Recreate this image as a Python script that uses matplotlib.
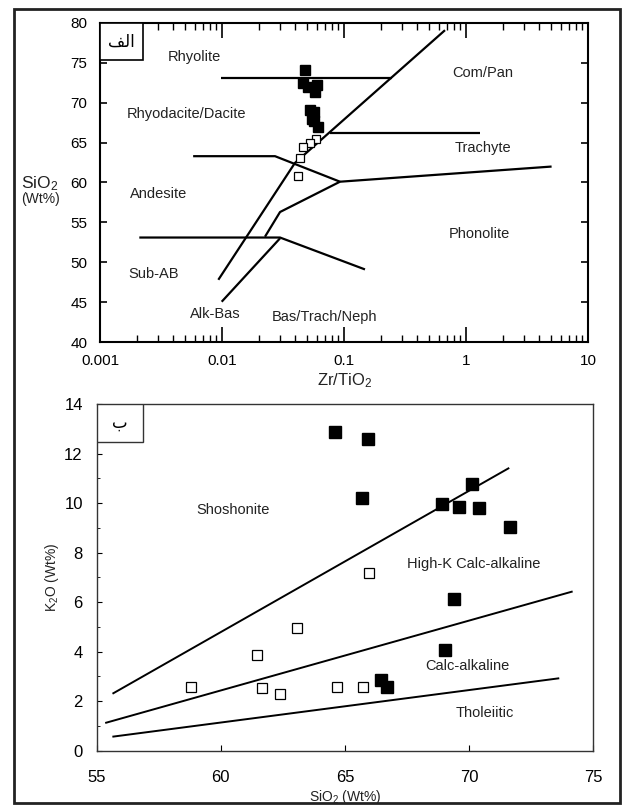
import matplotlib.pyplot as plt
from matplotlib.patches import Rectangle

plt.rcParams['font.family'] = ['Liberation Sans', 'DejaVu Sans']
plt.rcParams['mathtext.default'] = 'regular'

# --- top panel: SiO2 vs Zr/TiO2 ---
zr_ti_filled = [0.0483, 0.0464, 0.0601, 0.0508, 0.0576, 0.0531, 0.0565, 0.0549, 0.0565, 0.0607]
sio2_filled = [74.1, 72.5, 72.2, 72.0, 71.4, 69.1, 68.8, 68.0, 67.7, 67.0]
zr_ti_open = [0.0586, 0.0523, 0.0464, 0.0439, 0.0420]
sio2_open = [65.45, 65.0, 64.5, 63.1, 60.8]

# field boundaries (Zr/TiO2, SiO2)
top_lines = [
    ([0.0099, 0.246], [73.1, 73.1]),
    ([0.00933, 0.0396, 0.673], [47.8, 62.45, 79.1]),
    ([0.0058, 0.0272, 0.0927], [63.3, 63.3, 60.1]),
    ([0.0927, 5.03], [60.1, 62.0]),
    ([0.0767, 1.30], [66.2, 66.2]),
    ([0.0225, 0.0299, 0.0927], [53.2, 56.3, 60.1]),
    ([0.0021, 0.0299, 0.1486], [53.1, 53.1, 49.1]),
    ([0.00994, 0.0299], [45.05, 53.0]),
]
top_fields = ['Rhyolite', 'Rhyodacite/Dacite', 'Andesite', 'Sub-AB', 'Alk-Bas',
              'Bas/Trach/Neph', 'Com/Pan', 'Trachyte', 'Phonolite']
top_field_x = [0.00589, 0.00514, 0.00301, 0.00277, 0.00887, 0.0698, 1.37, 1.37, 1.28]
top_field_y = [75.7, 68.55, 58.56, 48.53, 43.47, 43.17, 73.7, 64.3, 53.5]

# --- bottom panel: K2O vs SiO2 ---
sio2_b_filled = [64.6, 65.94, 65.70, 70.13, 68.89, 69.59, 70.41, 71.65, 69.39, 69.03, 66.44, 66.68]
k2o_b_filled = [12.86, 12.59, 10.19, 10.76, 9.96, 9.86, 9.82, 9.02, 6.13, 4.07, 2.86, 2.56]
sio2_b_open = [65.97, 58.79, 61.44, 61.67, 62.38, 63.05, 64.67, 65.74]
k2o_b_open = [7.19, 2.56, 3.87, 2.52, 2.29, 4.94, 2.56, 2.56]

bottom_lines = [
    ([55.67, 71.58], [2.32, 11.4]),
    ([55.38, 74.13], [1.13, 6.42]),
    ([55.67, 73.59], [0.57, 2.92]),
]
bottom_fields = ['Shoshonite', 'High-K Calc-alkaline', 'Calc-alkaline', 'Tholeiitic']
bottom_field_x = [60.5, 70.17, 69.94, 70.64]
bottom_field_y = [9.7, 7.53, 3.42, 1.51]

W, H = 623, 805
fig = plt.figure(figsize=(W / 100, H / 100), dpi=100)

# outer frame
fig.patches.append(Rectangle((14 / W, 2 / H), (620 - 14) / W, (805 - 9 - 2) / H,
                             transform=fig.transFigure, fill=False, lw=2, edgecolor='#222'))

# top panel
ax1 = fig.add_axes([100 / W, 1 - 342 / H, 488 / W, 319 / H])
ax1.set_xscale('log')
ax1.set_xlim(0.001, 10)
ax1.set_ylim(40, 80)
for xs, ys in top_lines:
    ax1.plot(xs, ys, color='black', lw=1.6, solid_capstyle='butt')
ax1.plot(zr_ti_filled, sio2_filled, 's', color='black', ms=6.5, mec='black')
ax1.plot(zr_ti_open, sio2_open, 's', mfc='white', mec='black', ms=6, mew=0.9)
for name, x, y in zip(top_fields, top_field_x, top_field_y):
    ax1.text(x, y, name, ha='center', va='center', fontsize=10.5, color='#222')
ax1.set_yticks(range(40, 81, 5))
ax1.set_xticks([0.001, 0.01, 0.1, 1, 10], ['0.001', '0.01', '0.1', '1', '10'])
ax1.tick_params(axis='x', which='major', direction='in', top=True, length=11, width=1.2,
                labelsize=11, pad=8.5)
ax1.tick_params(axis='x', which='minor', direction='in', top=True, length=5, width=1.0)
ax1.tick_params(axis='y', direction='in', right=True, length=5, width=1.2,
                labelsize=11, pad=9)
for s in ax1.spines.values():
    s.set_linewidth(1.5)
ax1.add_patch(Rectangle((0, 1 - 37.3 / 319), 43.3 / 488, 37.3 / 319, transform=ax1.transAxes,
                        fill=True, facecolor='white', edgecolor='black', lw=1.2, zorder=5))
ax1.text(21.7 / 488, 1 - 19 / 319, '\uFED2\uFEDF\uFE8D', transform=ax1.transAxes,
         ha='center', va='center', fontsize=12, family=['DejaVu Sans'], zorder=6)
fig.text(40 / W, 1 - 184 / H, 'SiO$_2$', ha='center', va='center', fontsize=12.5, color='#222')
fig.text(41 / W, 1 - 199 / H, '(Wt%)', ha='center', va='center', fontsize=10, color='#222')
fig.text(345 / W, 1 - 381 / H, 'Zr/TiO$_2$', ha='center', va='center', fontsize=12, color='#222')

# bottom panel
ax2 = fig.add_axes([96.7 / W, 1 - 750.7 / H, 496.6 / W, 346.7 / H])
ax2.set_xlim(55, 75)
ax2.set_ylim(0, 14)
for xs, ys in bottom_lines:
    ax2.plot(xs, ys, color='black', lw=1.4)
ax2.plot(sio2_b_filled, k2o_b_filled, 's', color='black', ms=8)
ax2.plot(sio2_b_open, k2o_b_open, 's', mfc='white', mec='black', ms=7.2, mew=0.9)
for name, x, y in zip(bottom_fields, bottom_field_x, bottom_field_y):
    ax2.text(x, y, name, ha='center', va='center', fontsize=10.5, color='#222')
ax2.set_xticks([55, 60, 65, 70, 75])
ax2.set_yticks(range(0, 15, 2))
ax2.set_yticks(range(1, 14, 2), minor=True)
ax2.tick_params(axis='x', direction='in', length=4, width=0.8, labelsize=12, pad=14)
ax2.tick_params(axis='y', which='major', direction='in', length=3.5, width=0.8,
                labelsize=12, pad=10)
ax2.tick_params(axis='y', which='minor', direction='in', length=2.5, width=0.6)
for s in ax2.spines.values():
    s.set_linewidth(1.0)
    s.set_color('#333')
ax2.add_patch(Rectangle((0, 1 - 38 / 346.7), 46 / 496.6, 38 / 346.7, transform=ax2.transAxes,
                        fill=True, facecolor='white', edgecolor='#333', lw=1.0, zorder=5))
ax2.text(23 / 496.6, 1 - 19 / 346.7, '\uFE8F', transform=ax2.transAxes,
         ha='center', va='center', fontsize=12, family=['DejaVu Sans'], zorder=6)
fig.text(52 / W, 1 - 577 / H, 'K$_2$O (Wt%)', ha='center', va='center', rotation=90,
         fontsize=10, color='#222')
fig.text(345 / W, 1 - 797 / H, 'SiO$_2$ (Wt%)', ha='center', va='center', fontsize=10,
         color='#222')

fig.savefig('out.png', dpi=100)
